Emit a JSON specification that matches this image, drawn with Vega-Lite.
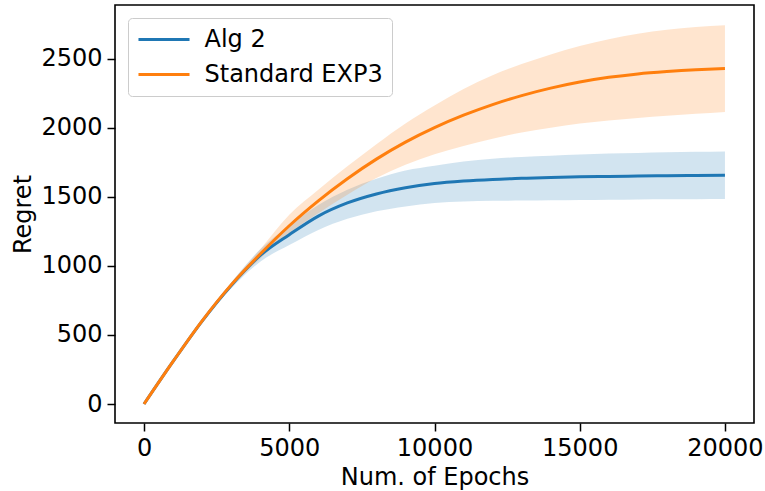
{
  "$schema": "https://vega.github.io/schema/vega-lite/v6.json",
  "width": 639,
  "height": 418,
  "autosize": {"type": "none"},
  "padding": {"left": 115, "top": 5, "right": 11, "bottom": 68},
  "background": "white",
  "config": {
    "view": {"stroke": "black", "strokeWidth": 1.6},
    "font": "DejaVu Sans",
    "axis": {
      "domain": false,
      "grid": false,
      "tickColor": "black",
      "tickSize": 8,
      "tickWidth": 1.5,
      "labelFontSize": 24,
      "labelColor": "black",
      "titleFontSize": 24,
      "titleColor": "black",
      "titleFontWeight": "normal",
      "labelPadding": 5
    }
  },
  "data": {
    "values": [
      {"epoch": 0, "series": "Alg 2", "mean": 0, "lo": 0, "hi": 0},
      {"epoch": 1000, "series": "Alg 2", "mean": 308, "lo": 305, "hi": 312},
      {"epoch": 2000, "series": "Alg 2", "mean": 600, "lo": 590, "hi": 610},
      {"epoch": 3000, "series": "Alg 2", "mean": 858, "lo": 835, "hi": 880},
      {"epoch": 4000, "series": "Alg 2", "mean": 1075, "lo": 1030, "hi": 1120},
      {"epoch": 5000, "series": "Alg 2", "mean": 1225, "lo": 1150, "hi": 1290},
      {"epoch": 6000, "series": "Alg 2", "mean": 1360, "lo": 1260, "hi": 1440},
      {"epoch": 7000, "series": "Alg 2", "mean": 1455, "lo": 1340, "hi": 1550},
      {"epoch": 8000, "series": "Alg 2", "mean": 1520, "lo": 1395, "hi": 1630},
      {"epoch": 9000, "series": "Alg 2", "mean": 1565, "lo": 1430, "hi": 1690},
      {"epoch": 10000, "series": "Alg 2", "mean": 1595, "lo": 1455, "hi": 1725},
      {"epoch": 11000, "series": "Alg 2", "mean": 1613, "lo": 1465, "hi": 1755},
      {"epoch": 12000, "series": "Alg 2", "mean": 1625, "lo": 1470, "hi": 1775},
      {"epoch": 13000, "series": "Alg 2", "mean": 1633, "lo": 1472, "hi": 1788},
      {"epoch": 14000, "series": "Alg 2", "mean": 1640, "lo": 1474, "hi": 1797},
      {"epoch": 15000, "series": "Alg 2", "mean": 1644, "lo": 1476, "hi": 1805},
      {"epoch": 16000, "series": "Alg 2", "mean": 1647, "lo": 1478, "hi": 1812},
      {"epoch": 17000, "series": "Alg 2", "mean": 1650, "lo": 1480, "hi": 1817},
      {"epoch": 18000, "series": "Alg 2", "mean": 1652, "lo": 1481, "hi": 1821},
      {"epoch": 19000, "series": "Alg 2", "mean": 1654, "lo": 1482, "hi": 1825},
      {"epoch": 20000, "series": "Alg 2", "mean": 1655, "lo": 1483, "hi": 1828},
      {"epoch": 0, "series": "Standard EXP3", "mean": 0, "lo": 0, "hi": 0},
      {"epoch": 1000, "series": "Standard EXP3", "mean": 308, "lo": 305, "hi": 311},
      {"epoch": 2000, "series": "Standard EXP3", "mean": 602, "lo": 595, "hi": 610},
      {"epoch": 3000, "series": "Standard EXP3", "mean": 862, "lo": 845, "hi": 878},
      {"epoch": 4000, "series": "Standard EXP3", "mean": 1085, "lo": 1052, "hi": 1120},
      {"epoch": 5000, "series": "Standard EXP3", "mean": 1290, "lo": 1235, "hi": 1370},
      {"epoch": 6000, "series": "Standard EXP3", "mean": 1470, "lo": 1380, "hi": 1550},
      {"epoch": 7000, "series": "Standard EXP3", "mean": 1630, "lo": 1515, "hi": 1720},
      {"epoch": 8000, "series": "Standard EXP3", "mean": 1772, "lo": 1635, "hi": 1880},
      {"epoch": 9000, "series": "Standard EXP3", "mean": 1895, "lo": 1732, "hi": 2030},
      {"epoch": 10000, "series": "Standard EXP3", "mean": 2000, "lo": 1808, "hi": 2160},
      {"epoch": 11000, "series": "Standard EXP3", "mean": 2090, "lo": 1868, "hi": 2280},
      {"epoch": 12000, "series": "Standard EXP3", "mean": 2167, "lo": 1920, "hi": 2380},
      {"epoch": 13000, "series": "Standard EXP3", "mean": 2232, "lo": 1965, "hi": 2460},
      {"epoch": 14000, "series": "Standard EXP3", "mean": 2286, "lo": 2000, "hi": 2530},
      {"epoch": 15000, "series": "Standard EXP3", "mean": 2330, "lo": 2030, "hi": 2590},
      {"epoch": 16000, "series": "Standard EXP3", "mean": 2364, "lo": 2052, "hi": 2640},
      {"epoch": 17000, "series": "Standard EXP3", "mean": 2389, "lo": 2070, "hi": 2680},
      {"epoch": 18000, "series": "Standard EXP3", "mean": 2406, "lo": 2086, "hi": 2708},
      {"epoch": 19000, "series": "Standard EXP3", "mean": 2419, "lo": 2100, "hi": 2728},
      {"epoch": 20000, "series": "Standard EXP3", "mean": 2428, "lo": 2113, "hi": 2741}
    ]
  },
  "encoding": {
    "x": {
      "field": "epoch",
      "type": "quantitative",
      "scale": {"domain": [-1000, 21000], "nice": false, "zero": false},
      "axis": {"values": [0, 5000, 10000, 15000, 20000], "format": "d", "title": "Num. of Epochs", "titlePadding": 5}
    }
  },
  "layer": [
    {
      "transform": [{"filter": "datum.series === 'Alg 2'"}],
      "mark": {"type": "area", "opacity": 0.2, "fill": "#1f77b4", "interpolate": "monotone"},
      "encoding": {
        "y": {
          "field": "lo",
          "type": "quantitative",
          "scale": {"domain": [-137.5, 2887.5], "nice": false, "zero": false},
          "axis": {"values": [0, 500, 1000, 1500, 2000, 2500], "format": "d", "title": "Regret", "titlePadding": 5}
        },
        "y2": {"field": "hi"}
      }
    },
    {
      "transform": [{"filter": "datum.series === 'Standard EXP3'"}],
      "mark": {"type": "area", "opacity": 0.2, "fill": "#ff7f0e", "interpolate": "monotone"},
      "encoding": {
        "y": {"field": "lo", "type": "quantitative"},
        "y2": {"field": "hi"}
      }
    },
    {
      "mark": {"type": "line", "strokeWidth": 3, "interpolate": "monotone"},
      "encoding": {
        "y": {"field": "mean", "type": "quantitative"},
        "stroke": {
          "field": "series",
          "type": "nominal",
          "scale": {"domain": ["Alg 2", "Standard EXP3"], "range": ["#1f77b4", "#ff7f0e"]},
          "legend": {
            "title": null,
            "orient": "none",
            "legendX": 13,
            "legendY": 13,
            "symbolType": "M-2.32,0H2.32",
            "symbolSize": 484,
            "symbolStrokeWidth": 3,
            "symbolOffset": 14.5,
            "labelFontSize": 24,
            "labelColor": "black",
            "labelOffset": 28,
            "labelLimit": 0,
            "rowPadding": 10,
            "padding": 9,
            "strokeColor": "#cccccc",
            "fillColor": "rgba(255,255,255,0.8)",
            "cornerRadius": 4
          }
        }
      }
    }
  ]
}
